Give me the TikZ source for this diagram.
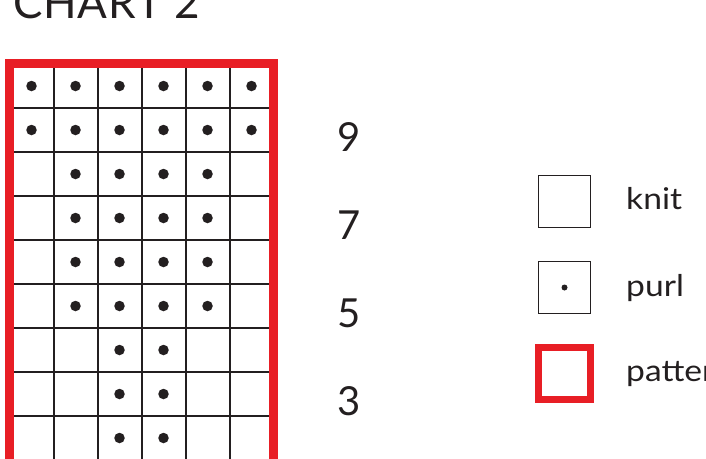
\documentclass[tikz,border=0pt]{standalone}
\usepackage{fontspec}
\setmainfont{Lato}
\newfontfamily\titlefont[LetterSpace=2]{Lato}
\newfontfamily\keyfont[FakeStretch=1.12]{Lato}
\usetikzlibrary{positioning}
\definecolor{Ink}{HTML}{231F20}
\definecolor{ChartRed}{HTML}{E81E25}
\tikzset{
  gridline/.style={draw=Ink,line width=2pt},
  redframe/.style={draw=ChartRed,line width=9pt},
  purldot/.style={fill=Ink,circle,inner sep=0pt,minimum size=10.5pt},
  rownum/.style={font=\fontsize{40}{40}\selectfont,text=Ink,inner sep=0pt},
  keybox/.style={draw=Ink,line width=1.4pt,minimum size=52pt,inner sep=0pt},
  redkey/.style={draw=ChartRed,line width=7pt,minimum size=52pt,inner sep=0pt},
  keylabel/.style={font=\keyfont\fontsize{30}{30}\selectfont,text=Ink,inner sep=0pt,anchor=base west},
  title/.style={font=\titlefont\fontsize{44}{44}\selectfont,text=Ink,inner sep=0pt,anchor=base west}
}

\begin{document}
\begin{tikzpicture}[x=1pt,y=-1pt]
  \useasboundingbox (0,0) rectangle (706,458);
  \clip (0,0) rectangle (706,458);

  \node[title] (chart) at (13,18) {CHART 2};

  % chart grid, 6 stitches wide
  \foreach \i in {1,...,5}
    \draw[gridline] (9.5+44*\i,64) -- (9.5+44*\i,470);
  \foreach \j in {1,...,9}
    \draw[gridline] (9.5,64+44*\j) -- (273.5,64+44*\j);
  \draw[redframe] (9.5,63.5) rectangle (273.5,520);

  % purl stitches, row by row from the top
  \foreach \r/\cols in {1/{1,2,3,4,5,6},2/{1,2,3,4,5,6},3/{2,3,4,5},4/{2,3,4,5},
                        5/{2,3,4,5},6/{2,3,4,5},7/{3,4},8/{3,4},9/{3,4}}
    \foreach \c in \cols
      \node[purldot] (dot-\r-\c) at (9.5+44*\c-22,64+44*\r-22) {};

  % row numbers
  \node[rownum] (row9) at (349,137) {9};
  \node[rownum] (row7) at (349,225) {7};
  \node[rownum] (row5) at (349,313) {5};
  \node[rownum] (row3) at (349,401) {3};

  % key
  \node[keybox] (knitbox) at (564.5,201.5) {};
  \node[keybox] (purlbox) at (564.5,287.5) {};
  \node[purldot,minimum size=6pt] (purlmark) at (purlbox.center) {};
  \node[redkey] (repbox) at (564.5,373.5) {};
  \node[keylabel] (knit) at (626,209) {knit};
  \node[keylabel] (purl) at (626,296) {purl};
  \node[keylabel] (patt) at (626,381) {pattern repeat};
\end{tikzpicture}
\end{document}
